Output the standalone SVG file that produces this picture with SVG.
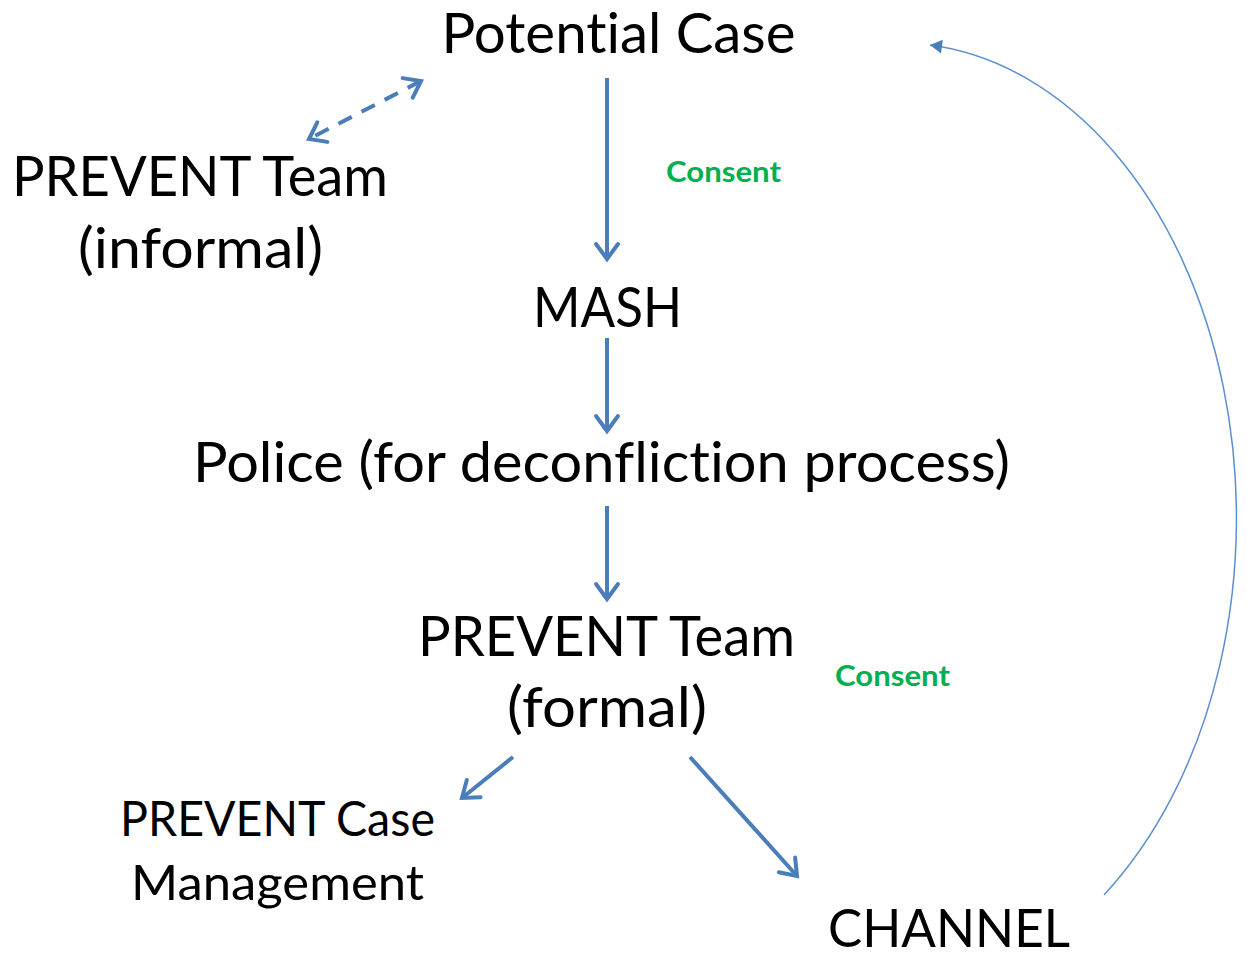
<svg xmlns="http://www.w3.org/2000/svg" width="1247" height="958" viewBox="0 0 1247 958">
<style>
.t{font-family:Lato,"Liberation Sans",sans-serif;fill:#000;text-anchor:middle;font-variant-ligatures:none;font-feature-settings:"liga" 0,"clig" 0,"dlig" 0,"calt" 0}
.g{font-family:Lato,"Liberation Sans",sans-serif;font-weight:bold;fill:#00B050;text-anchor:middle;font-size:29px}
.a{stroke:#4A7EBB;stroke-width:4;fill:none}
</style>
<defs>
<marker id="chev" markerUnits="userSpaceOnUse" viewBox="-20 -14 24 28" refX="0" refY="0" markerWidth="24" markerHeight="28" orient="auto-start-reverse" overflow="visible">
<path d="M-15,-11 L0,0 L-15,11" fill="none" stroke="#4A7EBB" stroke-width="4" stroke-linecap="round" stroke-linejoin="miter"/>
</marker>
<marker id="tri" markerUnits="userSpaceOnUse" viewBox="-14 -8 16 16" refX="0" refY="0" markerWidth="16" markerHeight="16" orient="auto" overflow="visible">
<path d="M-12,-7 L0,0 L-12,7 Z" fill="#4A7EBB"/>
</marker>
</defs>
<rect width="1247" height="958" fill="#fff"/>
<g id="connectors">
<line class="a" x1="607" y1="78" x2="607" y2="259" marker-end="url(#chev)"/>
<line class="a" x1="607" y1="338" x2="607" y2="431" marker-end="url(#chev)"/>
<line class="a" x1="607" y1="506" x2="607" y2="599" marker-end="url(#chev)"/>
<line class="a" x1="421" y1="81" x2="309" y2="139" stroke-dasharray="15,11" marker-start="url(#chev)" marker-end="url(#chev)"/>
<line class="a" x1="513" y1="757" x2="462" y2="798" marker-end="url(#chev)"/>
<line class="a" x1="690" y1="757" x2="797" y2="876" marker-end="url(#chev)"/>
<path d="M1104,895 A338,475 0 0 0 930,45" fill="none" stroke="#5B8FD0" stroke-width="1.5" marker-end="url(#tri)"/>
</g>
<g id="potential-case"><text class="t" x="618.5" y="53" font-size="56" textLength="354" lengthAdjust="spacingAndGlyphs">Potential Case</text></g>
<g id="prevent-informal">
<text class="t" x="200" y="196" font-size="56" textLength="376" lengthAdjust="spacingAndGlyphs">PREVENT Team</text>
<text class="t" x="200.5" y="268" font-size="56" textLength="245" lengthAdjust="spacingAndGlyphs">(informal)</text>
</g>
<g id="mash"><text class="t" x="607.5" y="327" font-size="56" textLength="149" lengthAdjust="spacingAndGlyphs">MASH</text></g>
<g id="police"><text class="t" x="601.5" y="482" font-size="56" textLength="817" lengthAdjust="spacingAndGlyphs">Police (for deconfliction process)</text></g>
<g id="prevent-formal">
<text class="t" x="606.5" y="656" font-size="56" textLength="377" lengthAdjust="spacingAndGlyphs">PREVENT Team</text>
<text class="t" x="607" y="727" font-size="56" textLength="200" lengthAdjust="spacingAndGlyphs">(formal)</text>
</g>
<g id="prevent-case-management">
<text class="t" x="277.5" y="836" font-size="48" textLength="315" lengthAdjust="spacingAndGlyphs">PREVENT Case</text>
<text class="t" x="277.5" y="900" font-size="48" textLength="293" lengthAdjust="spacingAndGlyphs">Management</text>
</g>
<g id="channel"><text class="t" x="949" y="947" font-size="52" textLength="242" lengthAdjust="spacingAndGlyphs">CHANNEL</text></g>
<g id="consent-1"><text class="g" x="723.5" y="182" textLength="115" lengthAdjust="spacingAndGlyphs">Consent</text></g>
<g id="consent-2"><text class="g" x="892.5" y="686" textLength="115" lengthAdjust="spacingAndGlyphs">Consent</text></g>
</svg>
